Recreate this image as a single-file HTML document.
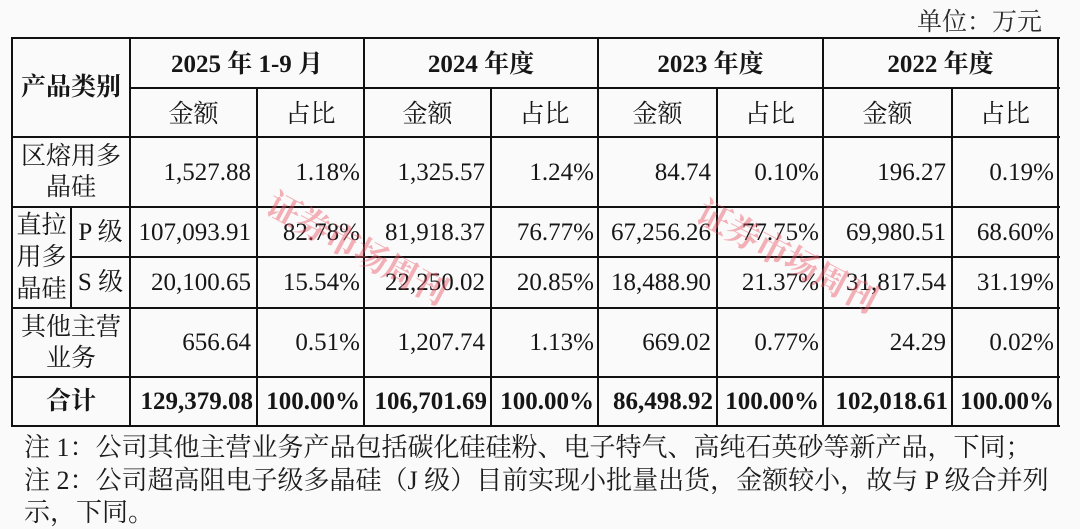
<!DOCTYPE html>
<html>
<head>
<meta charset="utf-8">
<style>
html,body{margin:0;padding:0;}
body{width:1080px;height:527px;background:#fafafa;position:relative;overflow:hidden;
font-family:"Liberation Serif","Noto Serif CJK SC","Noto Serif CJK JP","Noto Serif CJK",serif;color:#161616;}
.h{position:absolute;height:2px;background:#111;}
.v{position:absolute;width:2px;background:#111;}
.c{position:absolute;display:flex;align-items:center;justify-content:center;text-align:center;font-size:25px;line-height:31px;white-space:nowrap;}
.r{justify-content:flex-end;padding-right:5px;box-sizing:border-box;}
.b{font-weight:bold;}
.wm{position:absolute;font-family:"Noto Serif CJK SC","Noto Sans CJK SC",serif;font-size:34px;font-weight:bold;color:rgba(232,85,100,0.45);white-space:nowrap;transform-origin:0 0;letter-spacing:-1px;}
.note{position:absolute;left:24px;font-size:26px;line-height:32px;white-space:nowrap;font-family:"Liberation Serif","Noto Serif CJK SC","Noto Serif CJK JP",serif;color:#1c1c1c;}
</style>
</head>
<body>
<div class="note" style="left:917px;top:7px;font-size:25px;color:#2a2a2a;">单位：万元</div>

<!-- horizontal lines -->
<div class="h" style="left:11px;width:1049px;top:37px;"></div>
<div class="h" style="left:129px;width:931px;top:87px;"></div>
<div class="h" style="left:11px;width:1049px;top:136px;"></div>
<div class="h" style="left:11px;width:1049px;top:206px;"></div>
<div class="h" style="left:70px;width:990px;top:256px;"></div>
<div class="h" style="left:11px;width:1049px;top:307px;"></div>
<div class="h" style="left:11px;width:1049px;top:376px;"></div>
<div class="h" style="left:11px;width:1049px;top:425px;"></div>

<!-- vertical lines -->
<div class="v" style="left:11px;top:37px;height:390px;"></div>
<div class="v" style="left:129px;top:37px;height:390px;"></div>
<div class="v" style="left:256px;top:87px;height:340px;"></div>
<div class="v" style="left:363px;top:37px;height:390px;"></div>
<div class="v" style="left:490px;top:87px;height:340px;"></div>
<div class="v" style="left:597px;top:37px;height:390px;"></div>
<div class="v" style="left:716px;top:87px;height:340px;"></div>
<div class="v" style="left:822px;top:37px;height:390px;"></div>
<div class="v" style="left:951px;top:87px;height:340px;"></div>
<div class="v" style="left:1057px;top:37px;height:390px;"></div>
<div class="v" style="left:70px;top:206px;height:102px;"></div>

<!-- header -->
<div class="c b" style="left:13px;top:39px;width:116px;height:97px;">产品类别</div>
<div class="c b" style="left:131px;top:40px;width:232px;height:48px;">2025 年 1-9 月</div>
<div class="c b" style="left:365px;top:40px;width:232px;height:48px;">2024 年度</div>
<div class="c b" style="left:599px;top:40px;width:223px;height:48px;">2023 年度</div>
<div class="c b" style="left:824px;top:40px;width:233px;height:48px;">2022 年度</div>

<div class="c" style="left:131px;top:91px;width:125px;height:47px;">金额</div>
<div class="c" style="left:258px;top:91px;width:105px;height:47px;">占比</div>
<div class="c" style="left:365px;top:91px;width:125px;height:47px;">金额</div>
<div class="c" style="left:492px;top:91px;width:105px;height:47px;">占比</div>
<div class="c" style="left:599px;top:91px;width:117px;height:47px;">金额</div>
<div class="c" style="left:718px;top:91px;width:104px;height:47px;">占比</div>
<div class="c" style="left:824px;top:91px;width:127px;height:47px;">金额</div>
<div class="c" style="left:953px;top:91px;width:104px;height:47px;">占比</div>

<!-- row 1 -->
<div class="c" style="left:13px;top:138px;width:116px;height:68px;">区熔用多<br>晶硅</div>
<div class="c r" style="left:131px;top:138px;width:125px;height:68px;">1,527.88</div>
<div class="c r" style="left:258px;top:138px;width:105px;height:68px;padding-right:3px;">1.18%</div>
<div class="c r" style="left:365px;top:138px;width:125px;height:68px;">1,325.57</div>
<div class="c r" style="left:492px;top:138px;width:105px;height:68px;padding-right:3px;">1.24%</div>
<div class="c r" style="left:599px;top:138px;width:117px;height:68px;">84.74</div>
<div class="c r" style="left:718px;top:138px;width:104px;height:68px;padding-right:3px;">0.10%</div>
<div class="c r" style="left:824px;top:138px;width:127px;height:68px;">196.27</div>
<div class="c r" style="left:953px;top:138px;width:104px;height:68px;padding-right:3px;">0.19%</div>

<!-- 直拉 -->
<div class="c" style="left:13px;top:208px;width:57px;height:99px;line-height:32px;">直拉<br>用多<br>晶硅</div>
<div class="c" style="left:72px;top:208px;width:57px;height:48px;">P 级</div>
<div class="c" style="left:72px;top:258px;width:57px;height:49px;">S 级</div>

<div class="c r" style="left:131px;top:208px;width:125px;height:48px;">107,093.91</div>
<div class="c r" style="left:258px;top:208px;width:105px;height:48px;padding-right:3px;">82.78%</div>
<div class="c r" style="left:365px;top:208px;width:125px;height:48px;">81,918.37</div>
<div class="c r" style="left:492px;top:208px;width:105px;height:48px;padding-right:3px;">76.77%</div>
<div class="c r" style="left:599px;top:208px;width:117px;height:48px;">67,256.26</div>
<div class="c r" style="left:718px;top:208px;width:104px;height:48px;padding-right:3px;">77.75%</div>
<div class="c r" style="left:824px;top:208px;width:127px;height:48px;">69,980.51</div>
<div class="c r" style="left:953px;top:208px;width:104px;height:48px;padding-right:3px;">68.60%</div>

<div class="c r" style="left:131px;top:258px;width:125px;height:49px;">20,100.65</div>
<div class="c r" style="left:258px;top:258px;width:105px;height:49px;padding-right:3px;">15.54%</div>
<div class="c r" style="left:365px;top:258px;width:125px;height:49px;">22,250.02</div>
<div class="c r" style="left:492px;top:258px;width:105px;height:49px;padding-right:3px;">20.85%</div>
<div class="c r" style="left:599px;top:258px;width:117px;height:49px;">18,488.90</div>
<div class="c r" style="left:718px;top:258px;width:104px;height:49px;padding-right:3px;">21.37%</div>
<div class="c r" style="left:824px;top:258px;width:127px;height:49px;">31,817.54</div>
<div class="c r" style="left:953px;top:258px;width:104px;height:49px;padding-right:3px;">31.19%</div>

<!-- other -->
<div class="c" style="left:13px;top:309px;width:116px;height:67px;">其他主营<br>业务</div>
<div class="c r" style="left:131px;top:309px;width:125px;height:67px;">656.64</div>
<div class="c r" style="left:258px;top:309px;width:105px;height:67px;padding-right:3px;">0.51%</div>
<div class="c r" style="left:365px;top:309px;width:125px;height:67px;">1,207.74</div>
<div class="c r" style="left:492px;top:309px;width:105px;height:67px;padding-right:3px;">1.13%</div>
<div class="c r" style="left:599px;top:309px;width:117px;height:67px;">669.02</div>
<div class="c r" style="left:718px;top:309px;width:104px;height:67px;padding-right:3px;">0.77%</div>
<div class="c r" style="left:824px;top:309px;width:127px;height:67px;">24.29</div>
<div class="c r" style="left:953px;top:309px;width:104px;height:67px;padding-right:3px;">0.02%</div>

<!-- total -->
<div class="c b" style="left:13px;top:378px;width:116px;height:47px;">合计</div>
<div class="c r b" style="left:131px;top:378px;width:125px;height:47px;padding-right:3px;">129,379.08</div>
<div class="c r b" style="left:258px;top:378px;width:105px;height:47px;padding-right:3px;">100.00%</div>
<div class="c r b" style="left:365px;top:378px;width:125px;height:47px;padding-right:3px;">106,701.69</div>
<div class="c r b" style="left:492px;top:378px;width:105px;height:47px;padding-right:3px;">100.00%</div>
<div class="c r b" style="left:599px;top:378px;width:117px;height:47px;padding-right:3px;">86,498.92</div>
<div class="c r b" style="left:718px;top:378px;width:104px;height:47px;padding-right:3px;">100.00%</div>
<div class="c r b" style="left:824px;top:378px;width:127px;height:47px;padding-right:3px;">102,018.61</div>
<div class="c r b" style="left:953px;top:378px;width:104px;height:47px;padding-right:3px;">100.00%</div>

<!-- watermarks -->
<div class="wm" style="left:282px;top:178px;transform:rotate(28deg);">证券市场周刊</div>
<div class="wm" style="left:712px;top:186px;transform:rotate(28deg);">证券市场周刊</div>

<!-- notes -->
<div class="note" style="top:432px;">注 1：公司其他主营业务产品包括碳化硅硅粉、电子特气、高纯石英砂等新产品，下同；</div>
<div class="note" style="top:465px;width:1021px;text-align:justify;text-align-last:justify;">注 2：公司超高阻电子级多晶硅（J 级）目前实现小批量出货，金额较小，故与 P 级合并列</div>
<div class="note" style="top:497px;">示，下同。</div>
</body>
</html>
